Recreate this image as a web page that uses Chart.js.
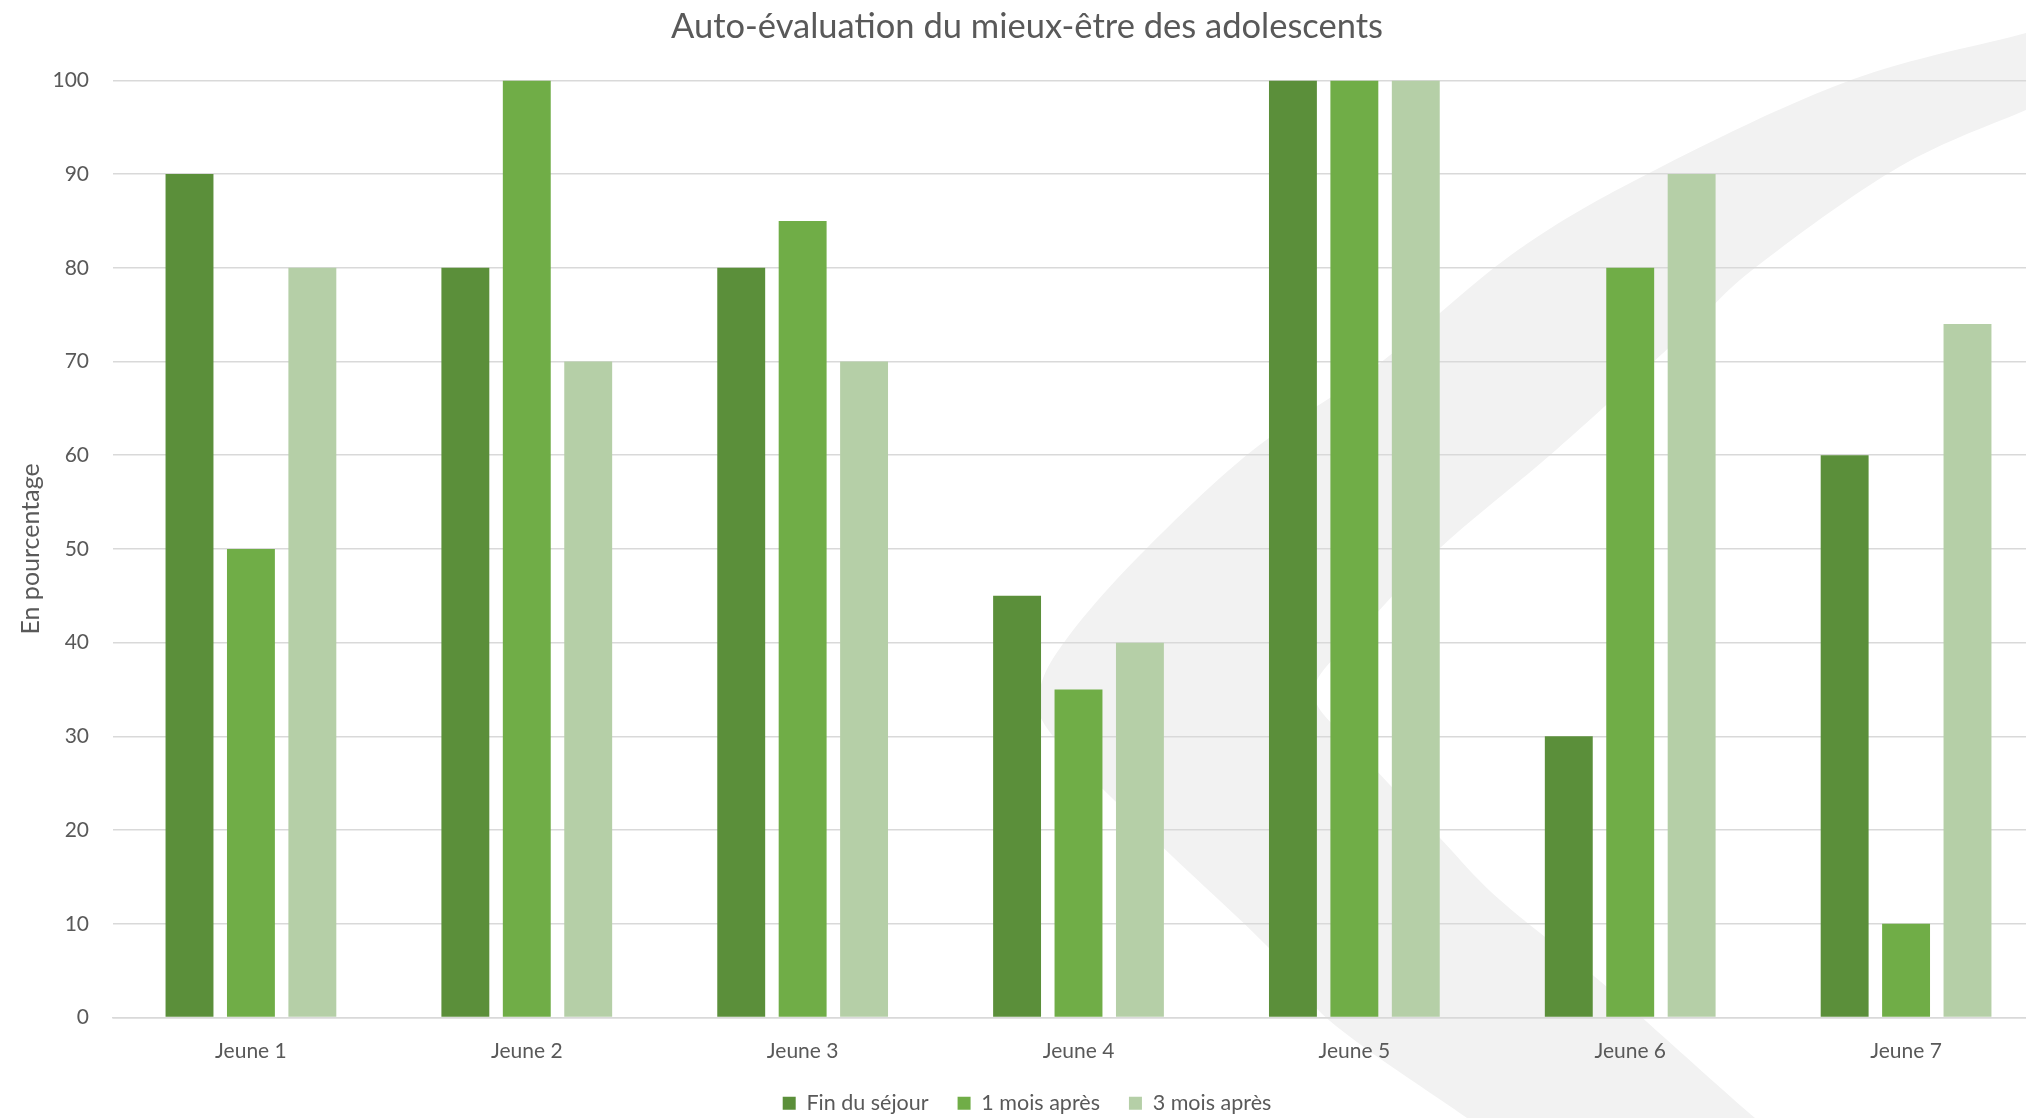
<!DOCTYPE html>
<html>
<head>
<meta charset="utf-8">
<script src="https://cdn.jsdelivr.net/npm/chart.js@4.4.1/dist/chart.umd.min.js"></script>
<style>
html,body{margin:0;padding:0;background:#fff;overflow:hidden;width:2026px;height:1118px;}
#wrap{position:relative;width:2026px;height:1118px;overflow:hidden;background:#fff;}
#bg{position:absolute;left:0;top:0;}
#c{position:absolute;left:0;top:0;}
</style>
</head>
<body>
<div id="wrap">
<svg id="bg" width="2026" height="1118" viewBox="0 0 2026 1118">
  <path id="swoosh" fill="#f2f2f2" d=""/>
</svg>
<canvas id="c" width="2056" height="1124"></canvas>
</div>
<script>
const categories = ["Jeune 1", "Jeune 2", "Jeune 3", "Jeune 4", "Jeune 5", "Jeune 6", "Jeune 7"];
const seriesNames = ["Fin du séjour", "1 mois après", "3 mois après"];
const finSejour = [90, 80, 80, 45, 100, 30, 60];
const unMoisApres = [50, 100, 85, 35, 100, 80, 10];
const troisMoisApres = [80, 70, 70, 40, 100, 90, 74];
const yTicks = [0, 10, 20, 30, 40, 50, 60, 70, 80, 90, 100];
const chartTitle = "Auto-évaluation du mieux-être des adolescents";
const yTitle = "En pourcentage";

const colors = ["#5b8f3a", "#70ad47", "#b5cfa7"];
const FONT = "Lato, 'Open Sans', sans-serif";
const TXT = "#595959";

// decorative background swoosh (not data)
(function () {
  const outer = [[2080,16],[2026,33],[1851,80],[1661,167],[1518,250],[1375,367],[1253,450],[1140,555],[1068,637],[1040,690],[1052,735],[1150,835],[1270,949],[1330,1021],[1467,1118],[1510,1150]];
  const inner = [[1800,1150],[1755,1118],[1607,987],[1500,900],[1440,838],[1360,752],[1314,692],[1362,630],[1440,548],[1556,450],[1685,333],[1756,267],[1899,167],[2026,110],[2080,88]];
  function cr(pts) {
    let d = '';
    for (let i = 0; i < pts.length - 1; i++) {
      const p0 = pts[Math.max(0, i - 1)], p1 = pts[i], p2 = pts[i + 1], p3 = pts[Math.min(pts.length - 1, i + 2)];
      const c1 = [p1[0] + (p2[0] - p0[0]) / 6, p1[1] + (p2[1] - p0[1]) / 6];
      const c2 = [p2[0] - (p3[0] - p1[0]) / 6, p2[1] - (p3[1] - p1[1]) / 6];
      d += ` C${c1[0]},${c1[1]} ${c2[0]},${c2[1]} ${p2[0]},${p2[1]}`;
    }
    return d;
  }
  const d = `M${outer[0][0]},${outer[0][1]}` + cr(outer) + ` L${inner[0][0]},${inner[0][1]}` + cr(inner) + ' Z';
  document.getElementById('swoosh').setAttribute('d', d);
})();

const values = [finSejour, unMoisApres, troisMoisApres];

new Chart(document.getElementById('c').getContext('2d'), {
  type: 'bar',
  data: {
    labels: categories,
    datasets: seriesNames.map((name, i) => ({
      label: name,
      data: values[i],
      backgroundColor: colors[i],
      borderWidth: 0,
      categoryPercentage: 0.668,
      barPercentage: 0.78
    }))
  },
  options: {
    responsive: false,
    animation: false,
    devicePixelRatio: 1,
    layout: { padding: { left: 10, right: 12, top: 0, bottom: 0 } },
    plugins: {
      title: {
        display: true,
        text: chartTitle,
        color: TXT,
        font: { family: FONT, size: 34.5, weight: 'normal' },
        padding: { top: 6, bottom: 33 }
      },
      legend: {
        position: 'bottom',
        labels: {
          color: TXT,
          font: { family: FONT, size: 21.5 },
          boxWidth: 13,
          boxHeight: 13,
          padding: 29
        }
      },
      tooltip: { enabled: false }
    },
    scales: {
      x: {
        grid: { display: false, drawTicks: false },
        border: { display: true, color: '#d9d9d9', width: 1.5 },
        ticks: { color: TXT, font: { family: FONT, size: 21 }, padding: 21 },
        afterFit: s => { s.height = 46; }
      },
      y: {
        min: 0,
        max: 100,
        afterBuildTicks: s => { s.ticks = yTicks.map(v => ({ value: v })); },
        grid: { color: '#d9d9d9', lineWidth: 1.5, drawTicks: false },
        border: { display: false },
        ticks: { color: TXT, font: { family: FONT, size: 21 }, padding: 24 },
        title: {
          display: true,
          text: yTitle,
          color: TXT,
          font: { family: FONT, size: 25 },
          padding: { top: 6, bottom: 0 }
        },
        afterFit: s => { s.width = 103; }
      }
    }
  }
});
</script>
</body>
</html>
